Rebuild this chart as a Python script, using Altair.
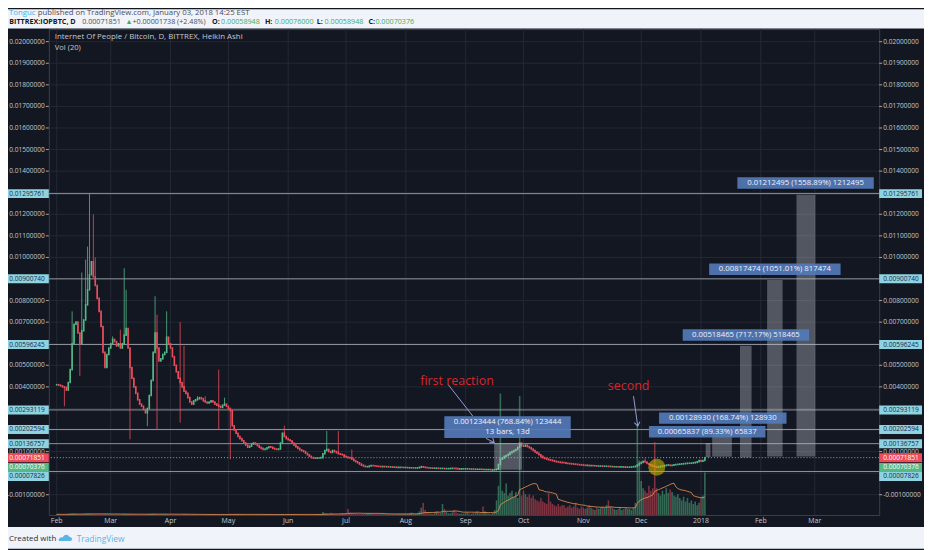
import altair as alt
import pandas as pd

# ---------------- chart values ----------------
FIRST_DAY = "2017-02-01"
# Heikin Ashi close per day (units of 0.00001 BTC), Feb 1 2017 .. Jan 3 2018
ha_close_feb = [410,408,405,400,398,385,420,480,600,690,700,650,600,660,710,780,850,920,980,910,870,810,750,680,560,490,550,580]
ha_close_mar = [600,620,610,590,600,580,600,640,670,580,490,440,400,370,340,320,310,295,280,300,360,430,560,650,580,520,530,550,560,630,600]
ha_close_apr = [580,540,500,470,440,420,400,380,370,350,330,320,335,340,345,350,345,335,330,325,330,335,330,320,315,310,305,315,320,310]
ha_close_may = [300,290,220,200,185,170,160,150,140,130,120,125,135,140,135,128,120,115,110,112,118,122,120,115,112,110,112,140,185,170,160]
ha_close_jun = [155,150,140,130,122,115,108,104,100,92,85,78,72,70,69,70,70,72,90,105,110,100,96,105,100,95,90,88,85,78]
ha_close_jul = [75,72,70,65,58,53,48,42,37,33,30,30,33,35,34,33,32,31,30,31,30,30,29,29,28,28,27,27,27,26,26]
ha_close_aug = [26,25,25,25,24,24,25,27,30,28,26,25,24,24,23,23,23,22,22,22,21,21,21,22,23,22,21,20,20,20,20]
ha_close_sep = [20,20,19,19,19,18,18,18,18,17,17,17,17,16,16,16,18,40,65,70,78,82,87,95,100,105,110,120,139,128]
ha_close_oct = [125,130,123,118,112,105,98,92,85,78,72,68,65,62,60,58,55,53,52,50,49,48,46,45,44,43,42,41,40,39,38]
ha_close_nov = [37,36,36,35,35,34,34,33,33,33,32,32,32,31,31,30,30,30,29,29,29,28,28,28,28,29,30,32,38,45]
ha_close_dec = [50,55,52,45,40,36,32,30,28,29,31,33,35,37,38,36,37,39,40,41,42,43,44,45,46,46,47,48,50,53,58]
ha_close_jan = [55,58.948,70.376]
ha_first_open = 410
# notable wick extremes: day index -> value (units of 0.00001 BTC)
wick_high = {8: 750, 13: 930, 15: 990, 16: 1050, 17: 1295.761, 19: 1200, 20: 1000, 29: 634, 33: 665,
             35: 950, 36: 850, 51: 820, 52: 734, 57: 750, 64: 700, 66: 590, 73: 357, 77: 357,
             84: 480, 87: 350, 118: 220, 140: 195, 146: 195, 153: 110, 190: 31, 240: 140, 305: 69, 336: 76}
wick_low = {4: 310, 12: 450, 38: 157, 47: 218, 52: 203, 64: 234, 84: 203, 90: 65, 226: 7.826}

# volume per day (relative units, tallest bar = 100)
vol_feb = [0.5,0.6,0.5,0.4,0.5,0.7,0.8,1.0,1.2,1.0,0.9,0.8,0.7,0.8,0.9,1.0,1.2,1.1,1.2,1.0,0.9,0.8,0.7,0.6,0.8,0.7,0.6,0.6]
vol_mar = [0.6,0.5,0.5,0.6,0.5,0.6,0.7,0.8,0.9,0.8,0.9,0.7,0.6,0.6,0.5,0.5,0.5,0.6,0.6,0.7,0.8,0.9,1.0,0.9,0.7,0.6,0.6,0.6,0.7,0.8,0.6]
vol_apr = [0.6,0.5,0.5,0.5,0.4,0.4,0.4,0.5,0.5,0.4,0.4,0.4,0.5,0.5,0.5,0.4,0.4,0.4,0.4,0.4,0.4,0.4,0.4,0.5,0.4,0.4,0.4,0.4,0.4,0.5]
vol_may = [0.6,0.9,0.8,0.6,0.5,0.5,0.4,0.4,0.4,0.4,0.4,0.4,0.4,0.4,0.4,0.4,0.4,0.4,0.4,0.4,0.4,0.4,0.4,0.4,0.4,0.4,0.4,0.6,0.8,0.6,0.5]
vol_jun = [0.5,0.4,0.4,0.4,0.4,0.4,0.4,0.4,0.4,0.4,0.4,0.4,0.4,0.4,0.4,0.4,0.5,0.8,2.5,1.5,1.2,1.0,1.8,1.2,0.9,0.8,0.7,1.0,1.5,1.2]
vol_jul = [1.5,5.0,2.0,1.5,1.2,1.0,1.0,0.9,0.8,0.8,0.8,1.2,1.5,1.0,0.9,0.8,0.8,0.7,0.8,0.8,0.9,0.8,0.7,0.7,0.8,0.7,0.7,0.8,0.8,0.7,0.8]
vol_aug = [0.8,1.0,1.5,2.0,1.2,1.0,1.5,3.0,6.0,10.0,4.0,2.0,1.5,1.2,1.0,2.0,3.0,2.0,1.5,9.0,5.0,2.5,1.5,1.2,2.0,4.0,2.0,1.5,1.2,1.0,1.2]
vol_sep = [1.5,2.0,1.2,1.0,1.5,2.0,3.0,1.5,1.2,7.0,3.0,1.5,1.2,1.0,1.5,4.0,12,24,100,20,18,26,16,18,20,15,19,14,98,16]
vol_oct = [20,17,15,17,14,16,13,12,11,14,11,10,9,18,11,9,8,7,9,7,8,8,6,7,8,6,7,10,6,5,7]
vol_nov = [6,5,6,8,6,5,4,6,5,6,7,6,8,12,7,6,5,4,5,6,4,5,6,5,5,4,6,10,74,45]
vol_dec = [28,22,20,18,24,20,22,60,22,18,16,20,17,22,18,21,19,16,15,17,14,12,15,11,14,10,12,9,11,8,10]
vol_jan = [14,16,35]

# horizontal levels drawn on the chart
level_values = [0.01295761, 0.00900740, 0.00596245, 0.00293119, 0.00202594, 0.00136757, 0.00007826]
last_price = 0.00071851
ha_last_close = 0.00070376

# price range measurements
range_start = ["2017-09-15T19:00:00Z", "2018-01-03T10:00:00Z", "2018-01-06T19:00:00Z",
               "2018-01-21T05:00:00Z", "2018-02-04T07:00:00Z", "2018-02-19T12:00:00Z"]
range_end = ["2017-09-30T05:00:00Z", "2018-01-05T22:00:00Z", "2018-01-17T00:00:00Z",
             "2018-01-27T05:00:00Z", "2018-02-12T07:00:00Z", "2018-03-01T07:00:00Z"]
range_low = [0.00016056, 0.000737, 0.000764, 0.000723, 0.000778, 0.000778]
range_high = [0.001395, 0.001395, 0.002053, 0.005908, 0.008953, 0.012903]

ann_text = ["0.01212495 (1558.89%) 1212495", "0.00817474 (1051.01%) 817474",
            "0.00518465 (717.17%) 518465", "0.00128930 (168.74%) 128930",
            "0.00065837 (89.33%) 65837"]
ann_date = ["2018-02-24T05:00:00Z", "2018-02-08T07:00:00Z", "2018-01-24T07:00:00Z",
            "2018-01-12T07:00:00Z", "2018-01-04T05:00:00Z"]
ann_value = [0.013454, 0.009452, 0.006406, 0.002552, 0.001915]
first_ann_text = ["0.00123444 (768.84%) 123444", "13 bars, 13d"]
first_ann_date = "2017-09-22T17:00:00Z"
first_ann_value = 0.002132

note_text = ["first reaction", "second"]
note_date = ["2017-08-27T12:00:00Z", "2017-11-24T12:00:00Z"]
note_value = [0.004292, 0.004038]

arrow_from_date = ["2017-08-23T00:00:00Z", "2017-09-11T12:00:00Z", "2017-11-27T00:00:00Z"]
arrow_to_date = ["2017-09-04T17:00:00Z", "2017-09-15T19:00:00Z", "2017-11-29T05:00:00Z"]
arrow_from_value = [0.0041, 0.001615, 0.003568]
arrow_to_value = [0.002644, 0.001417, 0.002183]

circle_date = ["2017-12-09T02:00:00Z"]
circle_value = [0.000277]

grid_values = [-0.001, 0.0, 0.001, 0.002, 0.003, 0.004, 0.005, 0.006, 0.007, 0.008, 0.009, 0.010,
               0.011, 0.012, 0.013, 0.014, 0.015, 0.016, 0.017, 0.018, 0.019, 0.020]
axis_values = [0.020, 0.019, 0.018, 0.017, 0.016, 0.015, 0.014, 0.012, 0.011, 0.010,
               0.008, 0.007, 0.005, 0.004, 0.001, -0.001]
axis_labels = ["%.8f" % v for v in axis_values]
month_dates = ["2017-02-01", "2017-03-01", "2017-04-01", "2017-05-01", "2017-06-01", "2017-07-01",
               "2017-08-01", "2017-09-01", "2017-10-01", "2017-11-01", "2017-12-01", "2018-01-01",
               "2018-02-01", "2018-03-01"]
month_labels = ["Feb", "Mar", "Apr", "May", "Jun", "Jul", "Aug", "Sep", "Oct", "Nov", "Dec", "2018", "Feb", "Mar"]

# ---------------- styles ----------------
GREEN = "#53b987"
RED = "#eb4d5c"
BG = "#131722"
LIGHT = "#f0f3fa"
GRID = "#242834"
TXT = "#c4c7cf"
CYAN = "#8fd3e0"
BLUE_BOX = "#5479b9"
FONT = "Open Sans"
AX_FS = 6.6
W, H = 834, 488

ha_close = (ha_close_feb + ha_close_mar + ha_close_apr + ha_close_may + ha_close_jun + ha_close_jul +
            ha_close_aug + ha_close_sep + ha_close_oct + ha_close_nov + ha_close_dec + ha_close_jan)
volume = (vol_feb + vol_mar + vol_apr + vol_may + vol_jun + vol_jul + vol_aug + vol_sep +
          vol_oct + vol_nov + vol_dec + vol_jan)
days = pd.date_range(FIRST_DAY, periods=len(ha_close), freq="D")
opens = [ha_first_open] + ha_close[:-1]
rows = []
for i, (d, o, c) in enumerate(zip(days, opens, ha_close)):
    hi = max(o, c, wick_high.get(i, -1e9))
    lo = min(o, c, wick_low.get(i, 1e9))
    rows.append({"date": d.strftime("%Y-%m-%dT00:00:00Z"), "open": o * 1e-5, "close": c * 1e-5,
                 "high": hi * 1e-5, "low": lo * 1e-5, "dir": "up" if c >= o else "down",
                 "vol": volume[i]})
candles = pd.DataFrame(rows)


def ms(s):
    return int(pd.Timestamp(s, tz="UTC").value // 10**6)


xs = alt.Scale(type="utc", domain=[ms("2017-01-30 12:00"), ms("2018-03-31 19:00")])
ys = alt.Scale(domain=[-0.001938, 0.020584], nice=False, zero=False)
vs = alt.Scale(domain=[0, 400], nice=False, zero=True)
dir_scale = alt.Scale(domain=["up", "down"], range=[GREEN, RED])


def X(f):
    return alt.X(f + ":T", scale=xs, axis=None)


def YP(f):
    return alt.Y(f + ":Q", scale=ys, axis=None)


one = pd.DataFrame({"k": [0]})


def box_shape(w, h):
    r = h / w
    return "M-1,%.4fL1,%.4fL1,%.4fL-1,%.4fZ" % (-r, -r, r, r)


def pix_text(text, x, y, size=7.8, color="#50535e", weight="normal", align="left", font=FONT):
    return alt.Chart(one).mark_text(text=text, align=align, baseline="middle", fontSize=size,
                                    color=color, fontWeight=weight, font=font).encode(
        x=alt.value(x), y=alt.value(y))


# ---------------- group A: background, grid, levels ----------------
A = []
A.append(alt.Chart(one).mark_rect(color=LIGHT).encode(
    x=alt.value(-41), x2=alt.value(W + 45), y=alt.value(-20), y2=alt.value(-0.5)))
A.append(alt.Chart(one).mark_rect(color=LIGHT).encode(
    x=alt.value(-41), x2=alt.value(W + 45), y=alt.value(500), y2=alt.value(H + 34)))
A.append(alt.Chart(pd.DataFrame({"v": grid_values})).mark_rule(color=GRID, strokeWidth=1).encode(y=YP("v")))
A.append(alt.Chart(pd.DataFrame({"d": [m + "T00:00:00Z" for m in month_dates]})).mark_rule(
    color=GRID, strokeWidth=1).encode(x=X("d")))
A.append(alt.Chart(pd.DataFrame({"v": level_values})).mark_rule(color="#a5a8b1", strokeWidth=1, opacity=0.85).encode(
    y=YP("v")))
A.append(alt.Chart(pd.DataFrame({"v": [last_price]})).mark_rule(color="#6fb8c4", strokeWidth=1, strokeDash=[1, 2]).encode(
    y=YP("v")))

# ---------------- group B: volume ----------------
vbase = alt.Chart(candles)
B = [
    vbase.mark_bar(width=1.6, opacity=0.5).encode(
        x=X("date"), y=alt.Y("vol:Q", scale=vs, axis=None),
        color=alt.Color("dir:N", scale=dir_scale, legend=None)),
    vbase.transform_window(ma="mean(vol)", frame=[-19, 0], sort=[alt.SortField("date")]).mark_line(
        color="#d98a4e", strokeWidth=1, opacity=0.9).encode(
        x=X("date"), y=alt.Y("ma:Q", scale=vs, axis=None)),
]

# ---------------- group C: candles and annotations ----------------
C = []
cbase = alt.Chart(candles)
C.append(cbase.mark_rule(strokeWidth=0.8).encode(
    x=X("date"), y=YP("low"), y2=alt.Y2("high"), color=alt.Color("dir:N", scale=dir_scale, legend=None)))
C.append(cbase.mark_rule(strokeWidth=1.6, strokeCap="square").encode(
    x=X("date"), y=YP("open"), y2=alt.Y2("close"), color=alt.Color("dir:N", scale=dir_scale, legend=None)))

ranges = pd.DataFrame({"start": range_start, "end": range_end, "lo": range_low, "hi": range_high})
C.append(alt.Chart(ranges).mark_rect(color="#c3c7d1", opacity=0.36).encode(
    x=X("start"), x2=alt.X2("end"), y=YP("lo"), y2=alt.Y2("hi")))

C.append(alt.Chart(pd.DataFrame({"d": circle_date, "v": circle_value})).mark_point(
    shape="circle", size=290, filled=True, color="#c9b400", opacity=0.6).encode(x=X("d"), y=YP("v")))

arrows = pd.DataFrame({"d1": arrow_from_date, "d2": arrow_to_date, "v1": arrow_from_value, "v2": arrow_to_value})
C.append(alt.Chart(arrows).mark_rule(color="#8f9bd3", strokeWidth=1).encode(
    x=X("d1"), x2=alt.X2("d2"), y=YP("v1"), y2=alt.Y2("v2")))
for idx, ang in [(1, 308), (2, 351)]:
    C.append(alt.Chart(pd.DataFrame({"d": [arrow_to_date[idx]], "v": [arrow_to_value[idx]]})).mark_point(
        shape="M-0.7,-1L0,0L0.7,-1", size=64, filled=False, color="#8f9bd3", strokeWidth=1,
        opacity=1, angle=ang).encode(x=X("d"), y=YP("v")))

# measurement labels
ann_w = [137, 132, 127, 128, 117]
for t, d, v, w in zip(ann_text, ann_date, ann_value, ann_w):
    df = pd.DataFrame({"d": [d], "v": [v], "t": [t]})
    C.append(alt.Chart(df).mark_point(shape=box_shape(w, 11.5), size=w * w, filled=True,
                                      color=BLUE_BOX, opacity=0.92, strokeWidth=0).encode(x=X("d"), y=YP("v")))
    C.append(alt.Chart(df).mark_text(fontSize=7.8, font=FONT, color="#eef2fa", baseline="middle").encode(
        x=X("d"), y=YP("v"), text="t:N"))
df = pd.DataFrame({"d": [first_ann_date], "v": [first_ann_value]})
C.append(alt.Chart(df).mark_point(shape=box_shape(127, 22), size=127 * 127, filled=True,
                                  color=BLUE_BOX, opacity=0.92, strokeWidth=0).encode(x=X("d"), y=YP("v")))
for line, off in zip(first_ann_text, [-5.3, 5.3]):
    C.append(alt.Chart(df.assign(t=line)).mark_text(fontSize=7.8, font=FONT, color="#eef2fa",
                                                    baseline="middle", yOffset=off).encode(
        x=X("d"), y=YP("v"), text="t:N"))

C.append(alt.Chart(pd.DataFrame({"d": note_date, "v": note_value, "t": note_text})).mark_text(
    fontSize=12.5, font=FONT, color="#d9262b", baseline="middle").encode(x=X("d"), y=YP("v"), text="t:N"))

# price axes (left and right)
ax = pd.DataFrame({"v": axis_values, "t": axis_labels})
C.append(alt.Chart(ax).mark_text(align="right", baseline="middle", fontSize=AX_FS, font=FONT, color=TXT).encode(
    x=alt.value(-4), y=YP("v"), text="t:N"))
C.append(alt.Chart(ax).mark_text(align="left", baseline="middle", fontSize=AX_FS, font=FONT, color=TXT).encode(
    x=alt.value(W + 4), y=YP("v"), text="t:N"))
C.append(alt.Chart(ax).mark_rule(color=TXT, strokeWidth=0.8).encode(x=alt.value(-3), x2=alt.value(0), y=YP("v")))
C.append(alt.Chart(ax).mark_rule(color=TXT, strokeWidth=0.8).encode(x=alt.value(W), x2=alt.value(W + 3), y=YP("v")))

hl_values = level_values[:6] + [last_price, ha_last_close, level_values[6]]
hl_fill = [CYAN] * 6 + [RED, GREEN, CYAN]
hl_txt = ["#1b2a49"] * 6 + ["#ffffff", "#ffffff", "#1b2a49"]
hl_shift = [0, 0, 0, 0, 0, 0, 0, 9.5, 5.0]
for v, f, tc, sh in zip(hl_values, hl_fill, hl_txt, hl_shift):
    df = pd.DataFrame({"v": [v], "t": ["%.8f" % v]})
    for cx, tx, al in [(-21.5, -4, "right"), (W + 21.5, W + 4, "left")]:
        C.append(alt.Chart(df).mark_point(shape=box_shape(43, 9), size=43 * 43, filled=True, color=f,
                                          opacity=1, strokeWidth=0, yOffset=sh).encode(
            x=alt.value(cx), y=YP("v")))
        C.append(alt.Chart(df).mark_text(align=al, baseline="middle", fontSize=AX_FS, font=FONT, color=tc,
                                         yOffset=sh).encode(x=alt.value(tx), y=YP("v"), text="t:N"))

# time axis labels
C.append(alt.Chart(pd.DataFrame({"d": [m + "T00:00:00Z" for m in month_dates], "t": month_labels})).mark_text(
    baseline="middle", fontSize=7, font=FONT, color=TXT).encode(x=X("d"), y=alt.value(494.5), text="t:N"))

# titles and page texts
C.append(pix_text("Internet Of People / Bitcoin, D, BITTREX, Heikin Ashi", 6, 8, size=7.9, color=TXT))
C.append(pix_text("Vol (20)", 6, 18.5, size=7.6, color=TXT))
C.append(pix_text("Tonguc", -40, -16.5, color="#3bb3e4"))
C.append(pix_text("published on TradingView.com, January 03, 2018 14:25 EST", -11, -16.5, color="#4a4e59"))
segs = [("BITTREX:IOPBTC, D", -39.7, "#131722", "bold"), ("0.00071851", 33.5, "#4a4e59", "normal"),
        ("▲", 77, "#3fae5a", "normal"), ("+0.00001738 (+2.48%)", 84, "#4a4e59", "normal"),
        ("O:", 164, "#131722", "bold"), ("0.00058948", 173, "#3fae5a", "normal"),
        ("H:", 217, "#131722", "bold"), ("0.00076000", 227, "#3fae5a", "normal"),
        ("L:", 269, "#131722", "bold"), ("0.00058948", 277, "#3fae5a", "normal"),
        ("C:", 321, "#131722", "bold"), ("0.00070376", 328, "#3fae5a", "normal")]
for t, x, c, wgt in segs:
    C.append(pix_text(t, x, -7, size=7.2, color=c, weight=wgt))
C.append(pix_text("Created with", -40, 512, size=8.0, color="#2a2e39"))
C.append(alt.Chart(one).mark_point(
    shape="M-1,0.45C-1.05,0.05 -0.7,-0.15 -0.4,-0.05C-0.3,-0.55 0.35,-0.6 0.5,-0.15C0.95,-0.15 1.05,0.45 0.65,0.45Z",
    size=196, filled=True, color="#5ab4e5", opacity=1, strokeWidth=0).encode(x=alt.value(17), y=alt.value(511)))
C.append(pix_text("TradingView", 28, 512, size=8.4, color="#5ab4e5"))

chart = alt.layer(alt.layer(*A), alt.layer(*B), alt.layer(*C)).resolve_scale(y="independent").properties(
    width=W, height=H, padding={"left": 41, "top": 20, "right": 45, "bottom": 34},
    autosize=alt.AutoSizeParams(type="none"), background=BG
).configure_view(stroke="#3c404c", strokeWidth=1)

chart.save("out.html", embed_options={"renderer": "svg", "actions": False})
